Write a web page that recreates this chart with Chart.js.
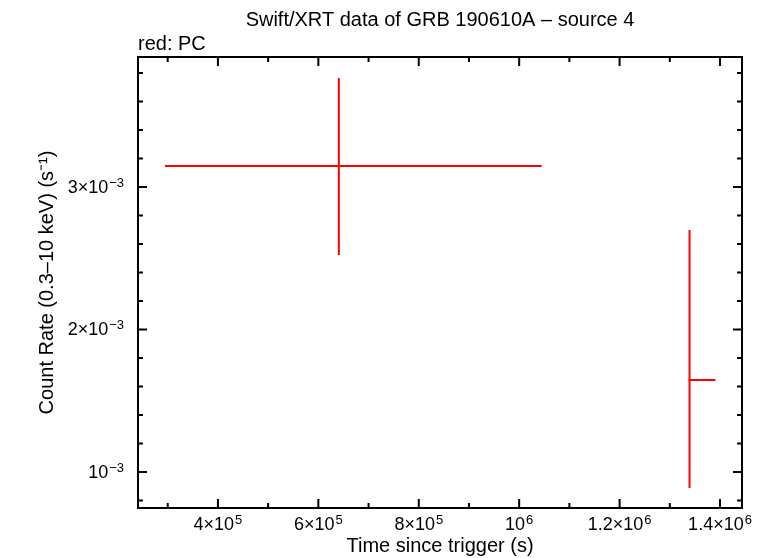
<!DOCTYPE html>
<html>
<head>
<meta charset="utf-8">
<script src="https://cdn.jsdelivr.net/npm/chart.js@4.4.0/dist/chart.umd.min.js"></script>
<style>
html, body { margin: 0; padding: 0; background: #fff; }
</style>
</head>
<body>
<canvas id="myChart" width="767" height="558"></canvas>
<script>
// light curve bins (PC mode)
var times = [640800, 1339300];
var timeLo = [294500, 1337000];
var timeHi = [1044800, 1391000];
var rates = [3.147e-3, 1.646e-3];
var rateLo = [2.523e-3, 0.888e-3];
var rateHi = [3.765e-3, 2.698e-3];

// axes, tick labels written as base^exponent
var xMin = 240800, xMax = 1443800;
var yMin = 0.7474e-3, yMax = 3.912e-3;
var xTicks = [4e5, 6e5, 8e5, 1e6, 1.2e6, 1.4e6];
var xTickLabels = ['4×10^5', '6×10^5', '8×10^5', '10^6', '1.2×10^6', '1.4×10^6'];
var xMinor = [3e5, 5e5, 7e5, 9e5, 1.1e6, 1.3e6];
var yTicks = [1e-3, 2e-3, 3e-3];
var yTickLabels = ['10^−3', '2×10^−3', '3×10^−3'];
var yMinor = [0.8e-3, 1.2e-3, 1.4e-3, 1.6e-3, 1.8e-3, 2.2e-3, 2.4e-3, 2.6e-3, 2.8e-3, 3.2e-3, 3.4e-3, 3.6e-3, 3.8e-3];

var fontFamily = '"Liberation Sans", Arial, Helvetica, sans-serif';
var baseFont = '18px ' + fontFamily;
var expFont = '13px ' + fontFamily;

// draws a label like 4×10^5 with a raised exponent; align is 'center' or 'right'
function drawPowerLabel(ctx, text, x, y, align) {
    var parts = text.split('^');
    ctx.font = baseFont;
    var w1 = ctx.measureText(parts[0]).width;
    ctx.font = expFont;
    var w2 = ctx.measureText(parts[1]).width + 1;
    var start = align === 'right' ? x - w1 - w2 : x - (w1 + w2) / 2;
    ctx.textAlign = 'left';
    ctx.textBaseline = 'alphabetic';
    ctx.font = baseFont;
    ctx.fillText(parts[0], start, y);
    ctx.font = expFont;
    ctx.fillText(parts[1], start + w1 + 1, y - 6);
}

// draws the error crosses, the box, the inward ticks and the tick labels
var frameAndErrors = {
    id: 'frameAndErrors',
    afterDatasetsDraw: function(chart) {
        var ctx = chart.ctx;
        var a = chart.chartArea;
        var xs = chart.scales.x, ys = chart.scales.y;
        ctx.save();

        ctx.strokeStyle = '#ff0000';
        ctx.lineWidth = 2;
        for (var i = 0; i < times.length; i++) {
            var px = xs.getPixelForValue(times[i]);
            var py = ys.getPixelForValue(rates[i]);
            ctx.beginPath();
            ctx.moveTo(xs.getPixelForValue(timeLo[i]), py);
            ctx.lineTo(xs.getPixelForValue(timeHi[i]), py);
            ctx.moveTo(px, ys.getPixelForValue(rateLo[i]));
            ctx.lineTo(px, ys.getPixelForValue(rateHi[i]));
            ctx.stroke();
        }

        ctx.strokeStyle = '#000';
        ctx.lineWidth = 2;
        ctx.strokeRect(a.left, a.top, a.right - a.left, a.bottom - a.top);

        ctx.beginPath();
        function xTick(v, len) {
            var p = xs.getPixelForValue(v);
            ctx.moveTo(p, a.bottom); ctx.lineTo(p, a.bottom - len);
            ctx.moveTo(p, a.top); ctx.lineTo(p, a.top + len);
        }
        function yTick(v, len) {
            var p = ys.getPixelForValue(v);
            ctx.moveTo(a.left, p); ctx.lineTo(a.left + len, p);
            ctx.moveTo(a.right, p); ctx.lineTo(a.right - len, p);
        }
        xTicks.forEach(function(v) { xTick(v, 9); });
        xMinor.forEach(function(v) { xTick(v, 5); });
        yTicks.forEach(function(v) { yTick(v, 9); });
        yMinor.forEach(function(v) { yTick(v, 5); });
        ctx.stroke();

        ctx.fillStyle = '#000';
        xs.ticks.forEach(function(t) {
            var i = xTicks.indexOf(t.value);
            if (i >= 0) drawPowerLabel(ctx, xTickLabels[i], xs.getPixelForValue(t.value), a.bottom + 22, 'center');
        });
        ys.ticks.forEach(function(t) {
            var i = yTicks.indexOf(t.value);
            if (i >= 0) drawPowerLabel(ctx, yTickLabels[i], a.left - 14, ys.getPixelForValue(t.value) + 6, 'right');
        });

        ctx.restore();
    }
};

var ctx = document.getElementById('myChart').getContext('2d');
var myChart = new Chart(ctx, {
    type: 'scatter',
    data: {
        datasets: [{
            label: 'PC',
            data: times.map(function(t, i) { return {x: t, y: rates[i]}; }),
            pointRadius: 0,
            showLine: false,
            borderColor: '#ff0000'
        }]
    },
    options: {
        responsive: false,
        animation: false,
        layout: { padding: { left: 0, right: 25, top: 0, bottom: 0 } },
        plugins: {
            legend: { display: false },
            tooltip: { enabled: false },
            title: {
                display: true,
                text: 'Swift/XRT data of GRB 190610A – source 4',
                fullSize: false,
                color: '#000',
                font: { family: fontFamily, size: 20, weight: 'normal' },
                padding: { top: 8, bottom: 0 }
            },
            subtitle: {
                display: true,
                text: 'red: PC',
                align: 'start',
                fullSize: false,
                color: '#000',
                font: { family: fontFamily, size: 20, weight: 'normal' },
                padding: { top: 0, bottom: 1 }
            }
        },
        scales: {
            x: {
                type: 'linear',
                min: xMin,
                max: xMax,
                grid: { display: false, drawTicks: false },
                border: { display: false },
                afterBuildTicks: function(scale) {
                    scale.ticks = xTicks.map(function(v) { return {value: v}; });
                },
                afterFit: function(scale) { scale.height = 50; },
                ticks: { display: false },
                title: {
                    display: true,
                    text: 'Time since trigger (s)',
                    color: '#000',
                    font: { family: fontFamily, size: 20 },
                    padding: { top: 0, bottom: 0 }
                }
            },
            y: {
                type: 'linear',
                min: yMin,
                max: yMax,
                grid: { display: false, drawTicks: false },
                border: { display: false },
                afterBuildTicks: function(scale) {
                    scale.ticks = yTicks.map(function(v) { return {value: v}; });
                },
                afterFit: function(scale) { scale.width = 138; },
                ticks: { display: false },
                title: {
                    display: true,
                    text: 'Count Rate (0.3–10 keV) (s⁻¹)',
                    color: '#000',
                    font: { family: fontFamily, size: 20 },
                    padding: { top: 35, bottom: 0 }
                }
            }
        }
    },
    plugins: [frameAndErrors]
});
</script>
</body>
</html>
